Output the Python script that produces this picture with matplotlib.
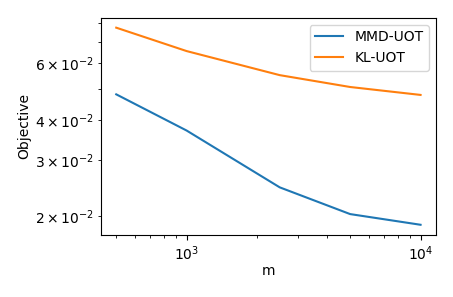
import numpy as np
import matplotlib
matplotlib.use("Agg")
import matplotlib.pyplot as plt

m = [500, 1000, 2500, 5000, 10000]
mmd_uot = [0.0480, 0.0370, 0.0246, 0.0203, 0.0188]
kl_uot = [0.0775, 0.0655, 0.0551, 0.0506, 0.0478]

plt.rcParams["font.size"] = 10

fig, ax = plt.subplots(figsize=(4.53, 2.97), dpi=100)
ax.plot(m, mmd_uot, label="MMD-UOT")
ax.plot(m, kl_uot, label="KL-UOT")
ax.set_xscale("log")
ax.set_yscale("log")
ax.set_xlabel("m", labelpad=1)
ax.set_ylabel("Objective", labelpad=2)
ax.legend(loc="upper right")
fig.subplots_adjust(left=0.223, right=0.962, top=0.94, bottom=0.21)
fig.savefig("out.png")
